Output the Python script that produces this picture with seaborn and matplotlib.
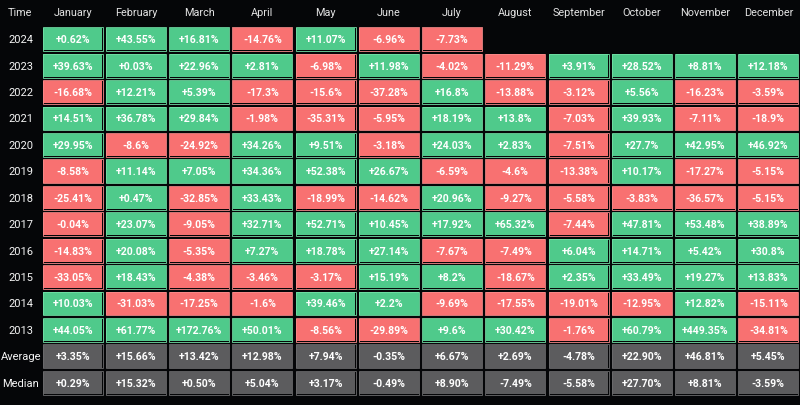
import numpy as np
import pandas as pd
import matplotlib.pyplot as plt
import seaborn as sns
from matplotlib.colors import ListedColormap
from matplotlib.patches import Rectangle

sns.set_theme(style="dark")
plt.rcParams['font.family'] = ['Roboto', 'DejaVu Sans']

months = ["January", "February", "March", "April", "May", "June", "July",
          "August", "September", "October", "November", "December"]
row_labels = ["2024", "2023", "2022", "2021", "2020", "2019", "2018", "2017",
              "2016", "2015", "2014", "2013", "Average", "Median"]

nan = np.nan
r2024 = [0.62, 43.55, 16.81, -14.76, 11.07, -6.96, -7.73, nan, nan, nan, nan, nan]
r2023 = [39.63, 0.03, 22.96, 2.81, -6.98, 11.98, -4.02, -11.29, 3.91, 28.52, 8.81, 12.18]
r2022 = [-16.68, 12.21, 5.39, -17.3, -15.6, -37.28, 16.8, -13.88, -3.12, 5.56, -16.23, -3.59]
r2021 = [14.51, 36.78, 29.84, -1.98, -35.31, -5.95, 18.19, 13.8, -7.03, 39.93, -7.11, -18.9]
r2020 = [29.95, -8.6, -24.92, 34.26, 9.51, -3.18, 24.03, 2.83, -7.51, 27.7, 42.95, 46.92]
r2019 = [-8.58, 11.14, 7.05, 34.36, 52.38, 26.67, -6.59, -4.6, -13.38, 10.17, -17.27, -5.15]
r2018 = [-25.41, 0.47, -32.85, 33.43, -18.99, -14.62, 20.96, -9.27, -5.58, -3.83, -36.57, -5.15]
r2017 = [-0.04, 23.07, -9.05, 32.71, 52.71, 10.45, 17.92, 65.32, -7.44, 47.81, 53.48, 38.89]
r2016 = [-14.83, 20.08, -5.35, 7.27, 18.78, 27.14, -7.67, -7.49, 6.04, 14.71, 5.42, 30.8]
r2015 = [-33.05, 18.43, -4.38, -3.46, -3.17, 15.19, 8.2, -18.67, 2.35, 33.49, 19.27, 13.83]
r2014 = [10.03, -31.03, -17.25, -1.6, 39.46, 2.2, -9.69, -17.55, -19.01, -12.95, 12.82, -15.11]
r2013 = [44.05, 61.77, 172.76, 50.01, -8.56, -29.89, 9.6, 30.42, -1.76, 60.79, 449.35, -34.81]
average = [3.35, 15.66, 13.42, 12.98, 7.94, -0.35, 6.67, 2.69, -4.78, 22.90, 46.81, 5.45]
median = [0.29, 15.32, 0.50, 5.04, 3.17, -0.49, 8.90, -7.49, -5.58, 27.70, 8.81, -3.59]

year_rows = [r2024, r2023, r2022, r2021, r2020, r2019, r2018, r2017,
             r2016, r2015, r2014, r2013]
stat_rows = [average, median]

values = pd.DataFrame(year_rows + stat_rows, index=row_labels, columns=months)

# colour code: 0 = down (red), 1 = up (green), 2 = stats (grey)
codes = (values > 0).astype(float)
codes[values.isna()] = np.nan
codes.iloc[len(year_rows):] = 2

labels = values.copy().astype(object)
for i, row in enumerate(values.values):
    for j, v in enumerate(row):
        if np.isnan(v):
            labels.iloc[i, j] = ""
        elif i >= len(year_rows):
            labels.iloc[i, j] = f"{v:+.2f}%"
        else:
            labels.iloc[i, j] = f"{v:+g}%"

RED = "#f87171"
GREEN = "#4fca8b"
GREY = "#5c5c5e"
cmap = ListedColormap([RED, GREEN, GREY])
edge_cols = {0: "#f98b8b", 1: "#72e0a6", 2: "#6c6c6e"}

BG = "#050608"
fig = plt.figure(figsize=(8, 4.06), dpi=100, facecolor=BG)
ax = fig.add_axes([41 / 800, 1 - 397 / 406, 759 / 800, 370 / 406])
ax.set_facecolor(BG)

sns.heatmap(codes, ax=ax, cmap=cmap, vmin=-0.5, vmax=2.5, cbar=False,
            annot=labels.values, fmt="", linewidths=1.6, linecolor=BG,
            annot_kws={"color": "white", "fontsize": 7.6, "fontweight": "bold"})

# lighter inner rim on each cell
for i in range(codes.shape[0]):
    for j in range(codes.shape[1]):
        c = codes.iloc[i, j]
        if np.isnan(c):
            continue
        ax.add_patch(Rectangle((j + 0.025, i + 0.05), 0.95, 0.9, fill=False,
                               edgecolor=edge_cols[int(c)], linewidth=0.6))

ax.xaxis.tick_top()
ax.set_xticklabels(months, color="#e2e2e2", fontsize=7.8, va="center")
ax.tick_params(axis="x", length=0, pad=10)
ax.set_yticklabels(row_labels, rotation=0, color="#f4f4f4", fontsize=8,
                   ha="center")
ax.tick_params(axis="y", length=0, pad=14.5)
ax.set_xlabel("")
ax.set_ylabel("")
for s in ax.spines.values():
    s.set_visible(False)

fig.text(20 / 800, 1 - 13 / 406, "Time", color="#e2e2e2", fontsize=7.8,
         ha="center", va="center")

fig.savefig("out.png", dpi=100, facecolor=BG)
